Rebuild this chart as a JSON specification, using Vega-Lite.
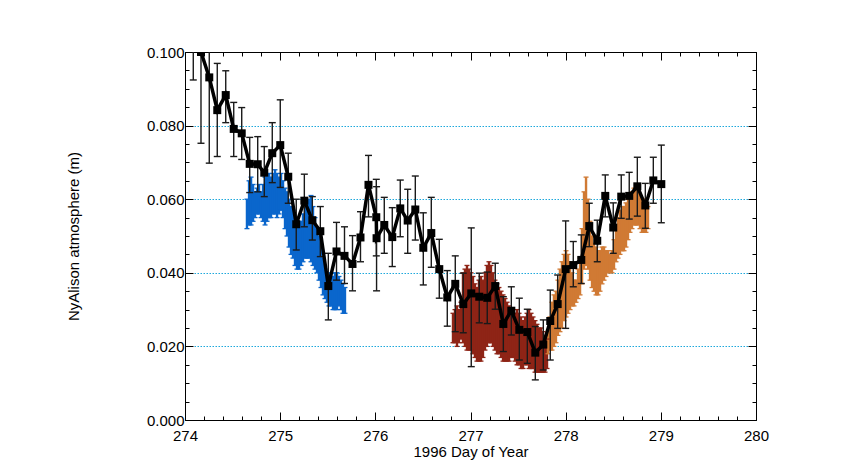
{
  "$schema": "https://vega.github.io/schema/vega-lite/v6.json",
  "width": 571,
  "height": 368,
  "autosize": {"type": "none"},
  "padding": {"left": 185, "top": 52, "right": 85, "bottom": 55},
  "background": "white",
  "config": {
    "view": {"stroke": "black", "strokeWidth": 1},
    "axis": {"domainColor": "black", "tickColor": "black", "labelColor": "black", "titleColor": "black", "labelFont": "Liberation Sans", "titleFont": "Liberation Sans", "titleFontWeight": "normal"}
  },
  "datasets": {
    "cloud": [
      {"d": 274.651, "lo": 0.052, "hi": 0.060, "g": "blue"},
      {"d": 274.673, "lo": 0.053, "hi": 0.065, "g": "blue"},
      {"d": 274.694, "lo": 0.053, "hi": 0.066, "g": "blue"},
      {"d": 274.715, "lo": 0.054, "hi": 0.064, "g": "blue"},
      {"d": 274.736, "lo": 0.055, "hi": 0.062, "g": "blue"},
      {"d": 274.757, "lo": 0.056, "hi": 0.063, "g": "blue"},
      {"d": 274.778, "lo": 0.056, "hi": 0.064, "g": "blue"},
      {"d": 274.799, "lo": 0.055, "hi": 0.062, "g": "blue"},
      {"d": 274.820, "lo": 0.054, "hi": 0.064, "g": "blue"},
      {"d": 274.841, "lo": 0.053, "hi": 0.066, "g": "blue"},
      {"d": 274.862, "lo": 0.054, "hi": 0.066, "g": "blue"},
      {"d": 274.883, "lo": 0.055, "hi": 0.067, "g": "blue"},
      {"d": 274.904, "lo": 0.055, "hi": 0.066, "g": "blue"},
      {"d": 274.925, "lo": 0.056, "hi": 0.067, "g": "blue"},
      {"d": 274.946, "lo": 0.056, "hi": 0.068, "g": "blue"},
      {"d": 274.967, "lo": 0.055, "hi": 0.067, "g": "blue"},
      {"d": 274.988, "lo": 0.056, "hi": 0.066, "g": "blue"},
      {"d": 275.009, "lo": 0.057, "hi": 0.067, "g": "blue"},
      {"d": 275.030, "lo": 0.055, "hi": 0.065, "g": "blue"},
      {"d": 275.051, "lo": 0.052, "hi": 0.063, "g": "blue"},
      {"d": 275.072, "lo": 0.050, "hi": 0.062, "g": "blue"},
      {"d": 275.093, "lo": 0.047, "hi": 0.060, "g": "blue"},
      {"d": 275.114, "lo": 0.045, "hi": 0.058, "g": "blue"},
      {"d": 275.135, "lo": 0.044, "hi": 0.057, "g": "blue"},
      {"d": 275.156, "lo": 0.042, "hi": 0.055, "g": "blue"},
      {"d": 275.177, "lo": 0.041, "hi": 0.054, "g": "blue"},
      {"d": 275.198, "lo": 0.041, "hi": 0.053, "g": "blue"},
      {"d": 275.219, "lo": 0.042, "hi": 0.054, "g": "blue"},
      {"d": 275.240, "lo": 0.043, "hi": 0.056, "g": "blue"},
      {"d": 275.261, "lo": 0.044, "hi": 0.058, "g": "blue"},
      {"d": 275.282, "lo": 0.044, "hi": 0.059, "g": "blue"},
      {"d": 275.303, "lo": 0.044, "hi": 0.060, "g": "blue"},
      {"d": 275.324, "lo": 0.043, "hi": 0.061, "g": "blue"},
      {"d": 275.345, "lo": 0.042, "hi": 0.058, "g": "blue"},
      {"d": 275.366, "lo": 0.041, "hi": 0.055, "g": "blue"},
      {"d": 275.387, "lo": 0.040, "hi": 0.052, "g": "blue"},
      {"d": 275.408, "lo": 0.038, "hi": 0.050, "g": "blue"},
      {"d": 275.429, "lo": 0.036, "hi": 0.047, "g": "blue"},
      {"d": 275.450, "lo": 0.034, "hi": 0.044, "g": "blue"},
      {"d": 275.471, "lo": 0.033, "hi": 0.041, "g": "blue"},
      {"d": 275.492, "lo": 0.032, "hi": 0.040, "g": "blue"},
      {"d": 275.513, "lo": 0.031, "hi": 0.040, "g": "blue"},
      {"d": 275.534, "lo": 0.031, "hi": 0.039, "g": "blue"},
      {"d": 275.555, "lo": 0.030, "hi": 0.039, "g": "blue"},
      {"d": 275.576, "lo": 0.030, "hi": 0.040, "g": "blue"},
      {"d": 275.597, "lo": 0.030, "hi": 0.040, "g": "blue"},
      {"d": 275.618, "lo": 0.031, "hi": 0.039, "g": "blue"},
      {"d": 275.639, "lo": 0.030, "hi": 0.038, "g": "blue"},
      {"d": 275.660, "lo": 0.029, "hi": 0.037, "g": "blue"},
      {"d": 275.681, "lo": 0.029, "hi": 0.036, "g": "blue"},
      {"d": 276.816, "lo": 0.021, "hi": 0.029, "g": "red"},
      {"d": 276.837, "lo": 0.021, "hi": 0.030, "g": "red"},
      {"d": 276.858, "lo": 0.020, "hi": 0.031, "g": "red"},
      {"d": 276.879, "lo": 0.021, "hi": 0.030, "g": "red"},
      {"d": 276.900, "lo": 0.022, "hi": 0.032, "g": "red"},
      {"d": 276.921, "lo": 0.021, "hi": 0.040, "g": "red"},
      {"d": 276.942, "lo": 0.020, "hi": 0.041, "g": "red"},
      {"d": 276.963, "lo": 0.019, "hi": 0.042, "g": "red"},
      {"d": 276.984, "lo": 0.019, "hi": 0.041, "g": "red"},
      {"d": 277.005, "lo": 0.019, "hi": 0.040, "g": "red"},
      {"d": 277.026, "lo": 0.018, "hi": 0.039, "g": "red"},
      {"d": 277.047, "lo": 0.017, "hi": 0.037, "g": "red"},
      {"d": 277.068, "lo": 0.016, "hi": 0.036, "g": "red"},
      {"d": 277.089, "lo": 0.016, "hi": 0.038, "g": "red"},
      {"d": 277.110, "lo": 0.016, "hi": 0.039, "g": "red"},
      {"d": 277.131, "lo": 0.017, "hi": 0.038, "g": "red"},
      {"d": 277.152, "lo": 0.019, "hi": 0.040, "g": "red"},
      {"d": 277.173, "lo": 0.020, "hi": 0.042, "g": "red"},
      {"d": 277.194, "lo": 0.021, "hi": 0.043, "g": "red"},
      {"d": 277.215, "lo": 0.021, "hi": 0.042, "g": "red"},
      {"d": 277.236, "lo": 0.020, "hi": 0.040, "g": "red"},
      {"d": 277.257, "lo": 0.019, "hi": 0.038, "g": "red"},
      {"d": 277.278, "lo": 0.018, "hi": 0.037, "g": "red"},
      {"d": 277.299, "lo": 0.018, "hi": 0.036, "g": "red"},
      {"d": 277.321, "lo": 0.017, "hi": 0.035, "g": "red"},
      {"d": 277.342, "lo": 0.016, "hi": 0.034, "g": "red"},
      {"d": 277.363, "lo": 0.016, "hi": 0.033, "g": "red"},
      {"d": 277.384, "lo": 0.016, "hi": 0.032, "g": "red"},
      {"d": 277.405, "lo": 0.016, "hi": 0.031, "g": "red"},
      {"d": 277.426, "lo": 0.017, "hi": 0.030, "g": "red"},
      {"d": 277.447, "lo": 0.017, "hi": 0.029, "g": "red"},
      {"d": 277.468, "lo": 0.016, "hi": 0.029, "g": "red"},
      {"d": 277.489, "lo": 0.015, "hi": 0.030, "g": "red"},
      {"d": 277.510, "lo": 0.015, "hi": 0.029, "g": "red"},
      {"d": 277.531, "lo": 0.014, "hi": 0.028, "g": "red"},
      {"d": 277.552, "lo": 0.014, "hi": 0.027, "g": "red"},
      {"d": 277.573, "lo": 0.015, "hi": 0.028, "g": "red"},
      {"d": 277.594, "lo": 0.015, "hi": 0.029, "g": "red"},
      {"d": 277.615, "lo": 0.014, "hi": 0.030, "g": "red"},
      {"d": 277.636, "lo": 0.014, "hi": 0.029, "g": "red"},
      {"d": 277.657, "lo": 0.014, "hi": 0.028, "g": "red"},
      {"d": 277.678, "lo": 0.013, "hi": 0.027, "g": "red"},
      {"d": 277.699, "lo": 0.013, "hi": 0.026, "g": "red"},
      {"d": 277.720, "lo": 0.013, "hi": 0.025, "g": "red"},
      {"d": 277.741, "lo": 0.013, "hi": 0.025, "g": "red"},
      {"d": 277.762, "lo": 0.013, "hi": 0.024, "g": "red"},
      {"d": 277.783, "lo": 0.013, "hi": 0.023, "g": "red"},
      {"d": 277.804, "lo": 0.014, "hi": 0.022, "g": "red"},
      {"d": 277.814, "lo": 0.018, "hi": 0.024, "g": "orange"},
      {"d": 277.835, "lo": 0.019, "hi": 0.028, "g": "orange"},
      {"d": 277.856, "lo": 0.019, "hi": 0.032, "g": "orange"},
      {"d": 277.877, "lo": 0.020, "hi": 0.034, "g": "orange"},
      {"d": 277.898, "lo": 0.021, "hi": 0.035, "g": "orange"},
      {"d": 277.919, "lo": 0.023, "hi": 0.038, "g": "orange"},
      {"d": 277.940, "lo": 0.024, "hi": 0.041, "g": "orange"},
      {"d": 277.961, "lo": 0.025, "hi": 0.043, "g": "orange"},
      {"d": 277.983, "lo": 0.027, "hi": 0.045, "g": "orange"},
      {"d": 278.004, "lo": 0.028, "hi": 0.046, "g": "orange"},
      {"d": 278.025, "lo": 0.029, "hi": 0.045, "g": "orange"},
      {"d": 278.046, "lo": 0.030, "hi": 0.043, "g": "orange"},
      {"d": 278.067, "lo": 0.031, "hi": 0.040, "g": "orange"},
      {"d": 278.088, "lo": 0.031, "hi": 0.038, "g": "orange"},
      {"d": 278.109, "lo": 0.032, "hi": 0.038, "g": "orange"},
      {"d": 278.130, "lo": 0.033, "hi": 0.041, "g": "orange"},
      {"d": 278.151, "lo": 0.034, "hi": 0.044, "g": "orange"},
      {"d": 278.172, "lo": 0.037, "hi": 0.052, "g": "orange"},
      {"d": 278.193, "lo": 0.041, "hi": 0.062, "g": "orange"},
      {"d": 278.214, "lo": 0.042, "hi": 0.066, "g": "orange"},
      {"d": 278.235, "lo": 0.041, "hi": 0.060, "g": "orange"},
      {"d": 278.256, "lo": 0.038, "hi": 0.054, "g": "orange"},
      {"d": 278.277, "lo": 0.036, "hi": 0.050, "g": "orange"},
      {"d": 278.298, "lo": 0.035, "hi": 0.048, "g": "orange"},
      {"d": 278.319, "lo": 0.034, "hi": 0.047, "g": "orange"},
      {"d": 278.340, "lo": 0.034, "hi": 0.046, "g": "orange"},
      {"d": 278.361, "lo": 0.035, "hi": 0.046, "g": "orange"},
      {"d": 278.382, "lo": 0.037, "hi": 0.047, "g": "orange"},
      {"d": 278.403, "lo": 0.038, "hi": 0.047, "g": "orange"},
      {"d": 278.424, "lo": 0.039, "hi": 0.046, "g": "orange"},
      {"d": 278.445, "lo": 0.040, "hi": 0.046, "g": "orange"},
      {"d": 278.466, "lo": 0.040, "hi": 0.045, "g": "orange"},
      {"d": 278.487, "lo": 0.040, "hi": 0.046, "g": "orange"},
      {"d": 278.508, "lo": 0.041, "hi": 0.049, "g": "orange"},
      {"d": 278.529, "lo": 0.043, "hi": 0.052, "g": "orange"},
      {"d": 278.550, "lo": 0.044, "hi": 0.055, "g": "orange"},
      {"d": 278.571, "lo": 0.045, "hi": 0.057, "g": "orange"},
      {"d": 278.592, "lo": 0.046, "hi": 0.058, "g": "orange"},
      {"d": 278.613, "lo": 0.046, "hi": 0.058, "g": "orange"},
      {"d": 278.634, "lo": 0.047, "hi": 0.059, "g": "orange"},
      {"d": 278.655, "lo": 0.049, "hi": 0.060, "g": "orange"},
      {"d": 278.676, "lo": 0.051, "hi": 0.061, "g": "orange"},
      {"d": 278.697, "lo": 0.052, "hi": 0.062, "g": "orange"},
      {"d": 278.718, "lo": 0.053, "hi": 0.063, "g": "orange"},
      {"d": 278.739, "lo": 0.053, "hi": 0.063, "g": "orange"},
      {"d": 278.760, "lo": 0.053, "hi": 0.062, "g": "orange"},
      {"d": 278.781, "lo": 0.052, "hi": 0.061, "g": "orange"},
      {"d": 278.802, "lo": 0.051, "hi": 0.060, "g": "orange"},
      {"d": 278.823, "lo": 0.051, "hi": 0.060, "g": "orange"},
      {"d": 278.844, "lo": 0.051, "hi": 0.059, "g": "orange"},
      {"d": 278.865, "lo": 0.052, "hi": 0.058, "g": "orange"}
    ],
    "black": [
      {"d": 274.087, "v": 0.108, "lo": 0.0924, "hi": 0.1236},
      {"d": 274.168, "v": 0.100, "lo": 0.0752, "hi": 0.1248},
      {"d": 274.255, "v": 0.0931, "lo": 0.0698, "hi": 0.1164},
      {"d": 274.339, "v": 0.0842, "lo": 0.0716, "hi": 0.0969},
      {"d": 274.428, "v": 0.0883, "lo": 0.0808, "hi": 0.0949},
      {"d": 274.512, "v": 0.0791, "lo": 0.0716, "hi": 0.0863},
      {"d": 274.596, "v": 0.0779, "lo": 0.0708, "hi": 0.0849},
      {"d": 274.680, "v": 0.0696, "lo": 0.0618, "hi": 0.0768},
      {"d": 274.764, "v": 0.0695, "lo": 0.0620, "hi": 0.0770},
      {"d": 274.833, "v": 0.0672, "lo": 0.0607, "hi": 0.0743},
      {"d": 274.917, "v": 0.0725, "lo": 0.0645, "hi": 0.0808},
      {"d": 275.001, "v": 0.0747, "lo": 0.0632, "hi": 0.0870},
      {"d": 275.085, "v": 0.0661, "lo": 0.0589, "hi": 0.0725},
      {"d": 275.169, "v": 0.0532, "lo": 0.0462, "hi": 0.0600},
      {"d": 275.254, "v": 0.0596, "lo": 0.0525, "hi": 0.0668},
      {"d": 275.338, "v": 0.0543, "lo": 0.0489, "hi": 0.0607},
      {"d": 275.422, "v": 0.0513, "lo": 0.0444, "hi": 0.0580},
      {"d": 275.506, "v": 0.0364, "lo": 0.0272, "hi": 0.0453},
      {"d": 275.592, "v": 0.0458, "lo": 0.0380, "hi": 0.0537},
      {"d": 275.676, "v": 0.0446, "lo": 0.0371, "hi": 0.0525},
      {"d": 275.760, "v": 0.0424, "lo": 0.0351, "hi": 0.0501},
      {"d": 275.844, "v": 0.0496, "lo": 0.0430, "hi": 0.0566},
      {"d": 275.928, "v": 0.0639, "lo": 0.0552, "hi": 0.0719},
      {"d": 276.010, "v": 0.0551, "lo": 0.0446, "hi": 0.0654},
      {"d": 276.013, "v": 0.0494, "lo": 0.0351, "hi": 0.0634},
      {"d": 276.094, "v": 0.0530, "lo": 0.0453, "hi": 0.0605},
      {"d": 276.178, "v": 0.0497, "lo": 0.0417, "hi": 0.0577},
      {"d": 276.262, "v": 0.0575, "lo": 0.0498, "hi": 0.0652},
      {"d": 276.340, "v": 0.0542, "lo": 0.0453, "hi": 0.0627},
      {"d": 276.420, "v": 0.0572, "lo": 0.0489, "hi": 0.0663},
      {"d": 276.504, "v": 0.0468, "lo": 0.0367, "hi": 0.0563},
      {"d": 276.588, "v": 0.0508, "lo": 0.0415, "hi": 0.0605},
      {"d": 276.672, "v": 0.0410, "lo": 0.0331, "hi": 0.0491},
      {"d": 276.756, "v": 0.0333, "lo": 0.0255, "hi": 0.0406},
      {"d": 276.840, "v": 0.0370, "lo": 0.0240, "hi": 0.0446},
      {"d": 276.924, "v": 0.0315, "lo": 0.0237, "hi": 0.0399},
      {"d": 277.008, "v": 0.0344, "lo": 0.0145, "hi": 0.0522},
      {"d": 277.092, "v": 0.0335, "lo": 0.0264, "hi": 0.0399},
      {"d": 277.176, "v": 0.0332, "lo": 0.0262, "hi": 0.0402},
      {"d": 277.260, "v": 0.0364, "lo": 0.0301, "hi": 0.0426},
      {"d": 277.345, "v": 0.0261, "lo": 0.0186, "hi": 0.0335},
      {"d": 277.429, "v": 0.0297, "lo": 0.0231, "hi": 0.0362},
      {"d": 277.513, "v": 0.0245, "lo": 0.0163, "hi": 0.0331},
      {"d": 277.597, "v": 0.0239, "lo": 0.0154, "hi": 0.0301},
      {"d": 277.681, "v": 0.0183, "lo": 0.0109, "hi": 0.0254},
      {"d": 277.765, "v": 0.0205, "lo": 0.0136, "hi": 0.0272},
      {"d": 277.838, "v": 0.0269, "lo": 0.0163, "hi": 0.0353},
      {"d": 277.916, "v": 0.0315, "lo": 0.0249, "hi": 0.0394},
      {"d": 278.000, "v": 0.0410, "lo": 0.0249, "hi": 0.0541},
      {"d": 278.080, "v": 0.0421, "lo": 0.0362, "hi": 0.0485},
      {"d": 278.164, "v": 0.0435, "lo": 0.0371, "hi": 0.0503},
      {"d": 278.248, "v": 0.0527, "lo": 0.0471, "hi": 0.0589},
      {"d": 278.332, "v": 0.0487, "lo": 0.0430, "hi": 0.0543},
      {"d": 278.416, "v": 0.0609, "lo": 0.0552, "hi": 0.0666},
      {"d": 278.500, "v": 0.0523, "lo": 0.0453, "hi": 0.0590},
      {"d": 278.584, "v": 0.0607, "lo": 0.0548, "hi": 0.0666},
      {"d": 278.668, "v": 0.0609, "lo": 0.0546, "hi": 0.0673},
      {"d": 278.753, "v": 0.0635, "lo": 0.0554, "hi": 0.0714},
      {"d": 278.837, "v": 0.0583, "lo": 0.0521, "hi": 0.0643},
      {"d": 278.921, "v": 0.0651, "lo": 0.0589, "hi": 0.0714},
      {"d": 279.005, "v": 0.0641, "lo": 0.0536, "hi": 0.0747}
    ]
  },
  "resolve": {"axis": {"x": "independent", "y": "independent"}},
  "layer": [
    {
      "data": {"name": "cloud"},
      "mark": {"type": "rule", "strokeWidth": 2.4, "clip": true},
      "encoding": {
        "x": {"field": "d", "type": "quantitative", "scale": {"domain": [274, 280], "nice": false},
          "axis": {"orient": "bottom", "values": [274, 275, 276, 277, 278, 279, 280], "format": "d", "tickSize": -8, "labelFontSize": 15, "labelPadding": 16, "labelFlush": false, "labelOverlap": false, "grid": false, "title": "1996 Day of Year", "titleFontSize": 15, "titlePadding": 1}},
        "y": {"field": "lo", "type": "quantitative", "scale": {"domain": [0, 0.1], "nice": false, "zero": false},
          "axis": {"orient": "left", "values": [0, 0.02, 0.04, 0.06, 0.08, 0.1], "format": ".3f", "tickSize": -8, "labelFontSize": 15, "labelPadding": 9, "labelFlush": false, "grid": true, "gridColor": "#1ea8dc", "gridDash": [1.5, 1.5], "gridWidth": 1, "title": "NyAlison atmosphere (m)", "titleFontSize": 15, "titlePadding": 65}},
        "y2": {"field": "hi"},
        "color": {"field": "g", "type": "nominal", "scale": {"domain": ["blue", "red", "orange"], "range": ["#0a66cc", "#8e2416", "#d07a34"]}, "legend": null}
      }
    },
    {
      "data": {"name": "cloud"},
      "mark": {"type": "point", "shape": "M-1,0L1,0", "size": 25, "filled": false, "strokeWidth": 1.3, "opacity": 1, "clip": true},
      "encoding": {
        "x": {"field": "d", "type": "quantitative", "scale": {"domain": [274, 280], "nice": false},
          "axis": {"orient": "bottom", "values": [274.2, 274.4, 274.6, 274.8, 275.2, 275.4, 275.6, 275.8, 276.2, 276.4, 276.6, 276.8, 277.2, 277.4, 277.6, 277.8, 278.2, 278.4, 278.6, 278.8, 279.2, 279.4, 279.6, 279.8], "tickSize": -4, "labels": false, "domain": false, "grid": false, "title": null}},
        "y": {"field": "lo", "type": "quantitative", "scale": {"domain": [0, 0.1], "nice": false, "zero": false},
          "axis": {"orient": "left", "values": [0.005, 0.01, 0.015, 0.025, 0.03, 0.035, 0.045, 0.05, 0.055, 0.065, 0.07, 0.075, 0.085, 0.09, 0.095], "tickSize": -4, "labels": false, "domain": false, "grid": false, "title": null}},
        "color": {"field": "g", "type": "nominal", "scale": {"domain": ["blue", "red", "orange"], "range": ["#0a66cc", "#8e2416", "#d07a34"]}, "legend": null}
      }
    },
    {
      "data": {"name": "cloud"},
      "mark": {"type": "point", "shape": "M-1,0L1,0", "size": 25, "filled": false, "strokeWidth": 1.3, "opacity": 1, "clip": true},
      "encoding": {
        "x": {"field": "d", "type": "quantitative", "scale": {"domain": [274, 280], "nice": false},
          "axis": {"orient": "top", "values": [274, 275, 276, 277, 278, 279, 280], "tickSize": -8, "labels": false, "domain": true, "grid": false, "title": null}},
        "y": {"field": "hi", "type": "quantitative", "scale": {"domain": [0, 0.1], "nice": false, "zero": false},
          "axis": {"orient": "right", "values": [0, 0.02, 0.04, 0.06, 0.08, 0.1], "tickSize": -8, "labels": false, "domain": true, "grid": false, "title": null}},
        "color": {"field": "g", "type": "nominal", "scale": {"domain": ["blue", "red", "orange"], "range": ["#0a66cc", "#8e2416", "#d07a34"]}, "legend": null}
      }
    },
    {
      "data": {"name": "black"},
      "mark": {"type": "rule", "strokeWidth": 1.4, "color": "#1a1a1a", "clip": true},
      "encoding": {
        "x": {"field": "d", "type": "quantitative", "scale": {"domain": [274, 280], "nice": false},
          "axis": {"orient": "top", "values": [274.2, 274.4, 274.6, 274.8, 275.2, 275.4, 275.6, 275.8, 276.2, 276.4, 276.6, 276.8, 277.2, 277.4, 277.6, 277.8, 278.2, 278.4, 278.6, 278.8, 279.2, 279.4, 279.6, 279.8], "tickSize": -4, "labels": false, "domain": false, "grid": false, "title": null}},
        "y": {"field": "lo", "type": "quantitative", "scale": {"domain": [0, 0.1], "nice": false, "zero": false},
          "axis": {"orient": "right", "values": [0.005, 0.01, 0.015, 0.025, 0.03, 0.035, 0.045, 0.05, 0.055, 0.065, 0.07, 0.075, 0.085, 0.09, 0.095], "tickSize": -4, "labels": false, "domain": false, "grid": false, "title": null}},
        "y2": {"field": "hi"}
      }
    },
    {
      "data": {"name": "black"},
      "mark": {"type": "point", "shape": "M-1,0L1,0", "size": 49, "filled": false, "strokeWidth": 1.4, "color": "#1a1a1a", "opacity": 1, "clip": true},
      "encoding": {
        "x": {"field": "d", "type": "quantitative", "scale": {"domain": [274, 280], "nice": false}, "axis": null},
        "y": {"field": "lo", "type": "quantitative", "scale": {"domain": [0, 0.1], "nice": false, "zero": false}, "axis": null}
      }
    },
    {
      "data": {"name": "black"},
      "mark": {"type": "point", "shape": "M-1,0L1,0", "size": 49, "filled": false, "strokeWidth": 1.4, "color": "#1a1a1a", "opacity": 1, "clip": true},
      "encoding": {
        "x": {"field": "d", "type": "quantitative", "scale": {"domain": [274, 280], "nice": false}, "axis": null},
        "y": {"field": "hi", "type": "quantitative", "scale": {"domain": [0, 0.1], "nice": false, "zero": false}, "axis": null}
      }
    },
    {
      "data": {"name": "black"},
      "mark": {"type": "line", "strokeWidth": 3.5, "color": "black", "clip": true},
      "encoding": {
        "x": {"field": "d", "type": "quantitative", "scale": {"domain": [274, 280], "nice": false}, "axis": null},
        "y": {"field": "v", "type": "quantitative", "scale": {"domain": [0, 0.1], "nice": false, "zero": false}, "axis": null}
      }
    },
    {
      "data": {"name": "black"},
      "mark": {"type": "square", "size": 64, "color": "black", "opacity": 1, "clip": true},
      "encoding": {
        "x": {"field": "d", "type": "quantitative", "scale": {"domain": [274, 280], "nice": false}, "axis": null},
        "y": {"field": "v", "type": "quantitative", "scale": {"domain": [0, 0.1], "nice": false, "zero": false}, "axis": null}
      }
    }
  ]
}
